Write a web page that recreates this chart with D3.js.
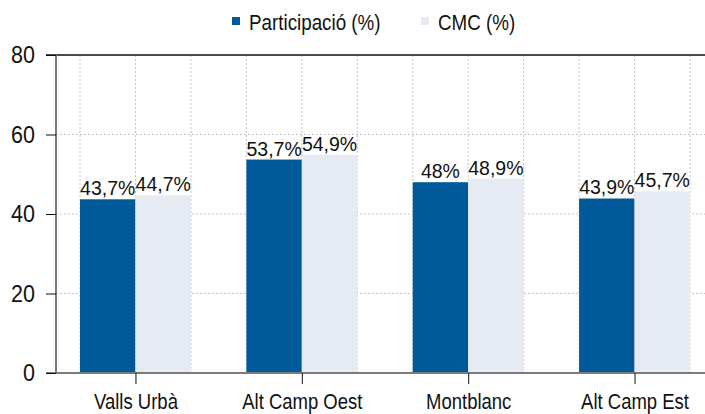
<!DOCTYPE html>
<html>
<head>
<meta charset="utf-8">
<script src="https://d3js.org/d3.v7.min.js"></script>
<style>
  body { margin: 0; background: #fff; }
  text { font-family: "Liberation Sans", Arial, sans-serif; fill: #111; }
</style>
</head>
<body>
<div id="chart"></div>
<script>
    const width = 705
    const height = 414

    const categories = ["Valls Urbà", "Alt Camp Oest", "Montblanc", "Alt Camp Est"]
    const seriesNames = ["Participació (%)", "CMC (%)"]
    const participacio = [43.7, 53.7, 48, 43.9]
    const cmc = [44.7, 54.9, 48.9, 45.7]
    const yTicks = [0, 20, 40, 60, 80]
    const colors = ["#005a9a", "#e6eaf2"]

    const axisX = 56
    const plotTop = 55
    const plotBottom = 373

    const svg = d3.select("#chart").append("svg")
        .attr("width", width).attr("height", height)

    const yScale = d3.scaleLinear().domain([0, 80]).range([plotBottom, plotTop])

    const x0 = d3.scaleBand()
        .domain(categories)
        .range([80, 690])
        .paddingInner(1 / 3)
        .paddingOuter(0)

    const x1 = d3.scaleBand()
        .domain(seriesNames)
        .range([0, x0.bandwidth()])

    // grid: horizontal dotted
    svg.append("g").selectAll("line")
        .data(yTicks.filter(d => d > 0 && d < 80))
        .enter().append("line")
        .attr("x1", axisX).attr("x2", width)
        .attr("y1", d => yScale(d)).attr("y2", d => yScale(d))
        .attr("stroke", "#c4c4c4").attr("stroke-dasharray", "2,2")

    // grid: vertical dotted at every bar edge
    const edges = []
    categories.forEach(c => {
        const s = x0(c)
        edges.push(s, s + x1.bandwidth(), s + 2 * x1.bandwidth())
    })
    svg.append("g").selectAll("line")
        .data(edges)
        .enter().append("line")
        .attr("x1", d => d).attr("x2", d => d)
        .attr("y1", plotTop).attr("y2", plotBottom)
        .attr("stroke", "#c4c4c4").attr("stroke-dasharray", "2,2")

    const rows = categories.map((c, i) => ({ cat: c, vals: [participacio[i], cmc[i]] }))

    const groups = svg.append("g").selectAll("g")
        .data(rows)
        .enter().append("g")
        .attr("transform", d => "translate(" + x0(d.cat) + ",0)")

    groups.selectAll("rect")
        .data(d => d.vals.map((v, k) => ({ name: seriesNames[k], v: v, k: k })))
        .enter().append("rect")
        .attr("x", d => x1(d.name))
        .attr("y", d => yScale(d.v))
        .attr("width", x1.bandwidth())
        .attr("height", d => plotBottom - yScale(d.v))
        .attr("fill", d => colors[d.k])

    const fmt = v => String(v).replace(".", ",") + "%"

    groups.selectAll("text")
        .data(d => d.vals.map((v, k) => ({ name: seriesNames[k], v: v })))
        .enter().append("text")
        .attr("x", d => x1(d.name) + x1.bandwidth() / 2)
        .attr("y", d => yScale(d.v) - 4)
        .attr("text-anchor", "middle")
        .style("font-size", "19.5px")
        .text(d => fmt(d.v))

    // frame lines
    svg.append("line")
        .attr("x1", 46).attr("x2", width)
        .attr("y1", plotTop).attr("y2", plotTop)
        .attr("stroke", "#4a4a4a").attr("stroke-width", 2)
    svg.append("line")
        .attr("x1", 46).attr("x2", width)
        .attr("y1", plotBottom).attr("y2", plotBottom)
        .attr("stroke", "#7a7a7a").attr("stroke-width", 2)
    svg.append("line")
        .attr("x1", axisX).attr("x2", axisX)
        .attr("y1", plotTop).attr("y2", plotBottom)
        .attr("stroke", "#7a7a7a").attr("stroke-width", 2)

    // y axis
    const yAxis = svg.append("g")
        .attr("transform", "translate(" + axisX + ",0)")
        .call(d3.axisLeft(yScale).tickValues(yTicks).tickSize(10).tickPadding(11))
    yAxis.select(".domain").remove()
    yAxis.selectAll(".tick line").attr("stroke", "#111")
    yAxis.selectAll(".tick text")
        .attr("transform", "scale(1,1.14)")
        .style("font-size", "21.5px")
        .attr("fill", "#111")
        .attr("font-family", null)

    // x axis
    const xCenter = d3.scalePoint().domain(categories)
        .range([x0(categories[0]) + x0.bandwidth() / 2, x0(categories[3]) + x0.bandwidth() / 2])
    const xAxis = svg.append("g")
        .attr("transform", "translate(0," + plotBottom + ")")
        .call(d3.axisBottom(xCenter).tickSize(11).tickPadding(6))
    xAxis.select(".domain").remove()
    xAxis.selectAll(".tick line").attr("stroke", "#111")
    xAxis.selectAll(".tick text")
        .attr("transform", "scale(1,1.18)")
        .style("font-size", "18.5px")
        .attr("fill", "#111")
        .attr("font-family", null)

    // legend
    const legendX = [232, 421]
    const legend = svg.append("g").selectAll("g")
        .data(seriesNames)
        .enter().append("g")
        .attr("transform", (d, i) => "translate(" + legendX[i] + ",0)")
    legend.append("rect")
        .attr("x", 0).attr("y", 17)
        .attr("width", 8).attr("height", 8)
        .attr("fill", (d, i) => colors[i])
    legend.append("text")
        .attr("transform", "translate(17,30) scale(1,1.18)")
        .style("font-size", "18.8px")
        .text(d => d)
</script>
</body>
</html>
